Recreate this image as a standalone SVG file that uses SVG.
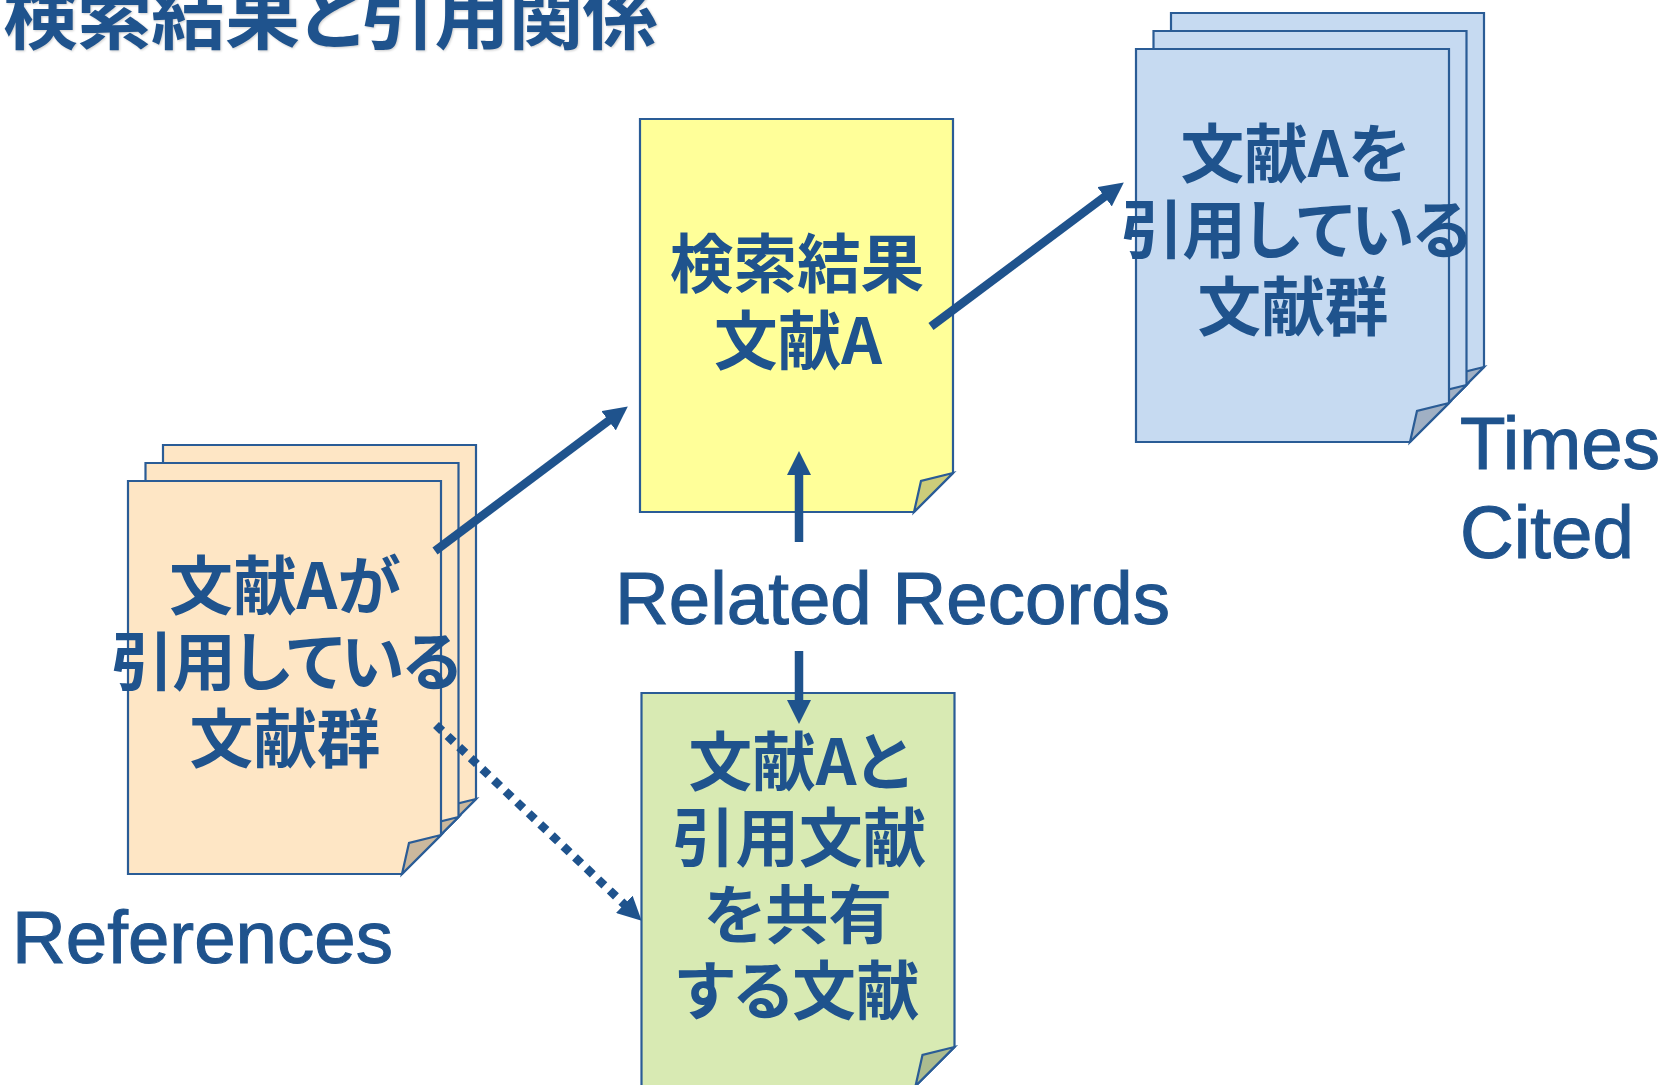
<svg xmlns="http://www.w3.org/2000/svg" width="1668" height="1085" viewBox="0 0 1668 1085">
<style>
text{font-family:"Noto Sans CJK JP","Liberation Sans",sans-serif;font-weight:700;fill:#1F538D;text-anchor:middle;font-feature-settings:"palt"}
.doc{font-size:63.600px}
.wide{letter-spacing:-1.400px}
.title{font-size:75px;text-anchor:start;letter-spacing:-1px;filter:drop-shadow(1px 1px 1px rgba(0,0,0,.2))}
.en{font-family:"Liberation Sans",Arial,sans-serif;font-weight:400;font-size:74.500px;text-anchor:start;stroke:#1F538D;stroke-width:1.100px}
.pg{stroke:#2A5C96;stroke-width:2.200;stroke-linejoin:miter}
.fold{fill:currentColor}
.orange{fill:#FEE6C5;color:#CBB89D}
.blue{fill:#C6DAF1;color:#A0B0C4}
.yellow{fill:#FFFF99;color:#CCCC7A}
.green{fill:#D8EAB3;color:#ACBC8F}
.arrow{stroke:#1F538D;stroke-width:8.500;fill:none}
</style>
<defs>
<g id="page">
<polygon class="pg" points="0,0 313,0 313,354 274,393 0,393"/>
<polygon class="pg fold" points="313,354 281,362 274,393"/>
</g>
<marker id="head" markerUnits="userSpaceOnUse" markerWidth="24" markerHeight="24" refX="1" refY="12" orient="auto">
<path d="M0,0 L24,12 L0,24 Z" fill="#1F538D"/>
</marker>
</defs>
<text class="title" x="3" y="43">検索結果と引用関係</text>
<g id="node-references" class="orange">
<use href="#page" x="163" y="445"/>
<use href="#page" x="145.500" y="463"/>
<use href="#page" x="128" y="481"/>
</g>
<g id="node-result" class="yellow">
<use href="#page" x="640" y="119"/>
</g>
<g id="node-cited" class="blue">
<use href="#page" x="1171" y="13"/>
<use href="#page" x="1153.500" y="31"/>
<use href="#page" x="1136" y="49"/>
</g>
<g id="node-related" class="green">
<use href="#page" x="641.500" y="693"/>
</g>
<g id="connectors">
<line class="arrow" x1="435" y1="551" x2="609.400" y2="420.200" marker-end="url(#head)"/>
<line class="arrow" x1="931" y1="326.500" x2="1105.400" y2="196.200" marker-end="url(#head)"/>
<line class="arrow" x1="799" y1="542" x2="799" y2="474" marker-end="url(#head)"/>
<line class="arrow" x1="799" y1="651" x2="799" y2="701" marker-end="url(#head)"/>
<line class="arrow" x1="436" y1="725" x2="625" y2="905" stroke-dasharray="8.500 7.500" marker-end="url(#head)"/>
</g>
<g id="labels-references">
<text class="doc" x="285" y="609">文献Aが</text>
<text class="doc wide" x="285" y="685">引用している</text>
<text class="doc" x="285" y="762">文献群</text>
<text class="en" x="12" y="963">References</text>
</g>
<g id="labels-result">
<text class="doc" x="797" y="287">検索結果</text>
<text class="doc" x="798" y="364">文献A</text>
</g>
<g id="labels-cited">
<text class="doc" x="1295" y="177">文献Aを</text>
<text class="doc wide" x="1295" y="253">引用している</text>
<text class="doc" x="1293" y="330">文献群</text>
<text class="en" x="1460" y="469">Times</text>
<text class="en" x="1460" y="558">Cited</text>
</g>
<g id="labels-related">
<text class="doc" x="799" y="785">文献Aと</text>
<text class="doc" x="799" y="861">引用文献</text>
<text class="doc" x="798" y="938">を共有</text>
<text class="doc" x="798" y="1014">する文献</text>
<text class="en" x="615" y="624">Related Records</text>
</g>
</svg>
